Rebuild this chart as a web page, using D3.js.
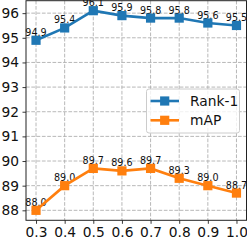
<!DOCTYPE html>
<html><head><meta charset="utf-8">
<script src="https://cdn.jsdelivr.net/npm/d3@7"></script>
<style>html,body{margin:0;padding:0;background:#fff;}svg{display:block;}</style>
</head><body>
<svg id="c" width="247" height="243"></svg>
<script>
const xValues = [0.3, 0.4, 0.5, 0.6, 0.7, 0.8, 0.9, 1.0];
const rank1 = [94.9, 95.4, 96.1, 95.9, 95.8, 95.8, 95.6, 95.5];
const mAP = [88.0, 89.0, 89.7, 89.6, 89.7, 89.3, 89.0, 88.7];
const yTicks = [88, 89, 90, 91, 92, 93, 94, 95, 96];
const seriesNames = ["Rank-1", "mAP"];
const colors = ["#1f77b4", "#ff7f0e"];

const svg = d3.select("#c");
const L = 26, R = 246.5, T = 0.7, B = 220.3;
const x = d3.scaleLinear().domain([0.265, 1.035]).range([L, R]);
const y = d3.scaleLinear().domain([87.595, 96.505]).range([B, T]);
const font = "DejaVu Sans";

// grid
const grid = svg.append("g");
grid.selectAll(".gx").data(xValues).enter().append("line")
  .attr("x1", d => x(d)).attr("x2", d => x(d)).attr("y1", T).attr("y2", B)
  .attr("stroke", "#b0b0b0").attr("stroke-width", 0.9).attr("stroke-dasharray", "3.7,1.6");
grid.selectAll(".gy").data(yTicks).enter().append("line")
  .attr("y1", d => y(d)).attr("y2", d => y(d)).attr("x1", L).attr("x2", R)
  .attr("stroke", "#b0b0b0").attr("stroke-width", 0.9).attr("stroke-dasharray", "3.7,1.6");

// axes
const xAxis = d3.axisBottom(x).tickValues(xValues).tickFormat(d3.format(".1f")).tickSize(3.5).tickPadding(3.5);
const yAxis = d3.axisLeft(y).tickValues(yTicks).tickFormat(d3.format("d")).tickSize(3.5).tickPadding(3.5);
const gx = svg.append("g").attr("transform", `translate(0,${B})`).call(xAxis);
const gy = svg.append("g").attr("transform", `translate(${L},0)`).call(yAxis);
[gx, gy].forEach(g => {
  g.select(".domain").remove();
  g.selectAll(".tick line").attr("stroke", "#222").attr("stroke-width", 0.9);
  g.selectAll(".tick text").attr("font-family", font).attr("font-size", 13.8).attr("fill", "#111");
});
gx.selectAll(".tick text").attr("dy", "0.71em");

// spines
svg.append("rect").attr("x", L).attr("y", T).attr("width", R - L).attr("height", B - T)
  .attr("fill", "none").attr("stroke", "#222").attr("stroke-width", 1);

const series = [rank1, mAP];
const fmt = d3.format(".1f");
// value labels (under markers)
series.forEach((vals, i) => {
  svg.append("g").selectAll("text").data(vals).enter().append("text")
    .attr("x", (d, j) => x(xValues[j])).attr("y", d => y(d) - 4.5)
    .attr("text-anchor", "middle").attr("font-family", font).attr("font-size", 9.6).attr("fill", "#111")
    .text(d => fmt(d));
});

const line = d3.line().x((d, j) => x(xValues[j])).y(d => y(d));
series.forEach((vals, i) => {
  svg.append("path").datum(vals).attr("d", line).attr("fill", "none")
    .attr("stroke", colors[i]).attr("stroke-width", 2.6);
  svg.append("g").selectAll("rect").data(vals).enter().append("rect")
    .attr("x", (d, j) => x(xValues[j]) - 4.6).attr("y", d => y(d) - 4.6)
    .attr("width", 9.2).attr("height", 9.2).attr("fill", colors[i]);
});

// legend
const lg = svg.append("g");
lg.append("rect").attr("x", 146.5).attr("y", 89).attr("width", 93).attr("height", 44).attr("rx", 2.5)
  .attr("fill", "#fff").attr("fill-opacity", 0.8).attr("stroke", "#ccc").attr("stroke-width", 1);
seriesNames.forEach((n, i) => {
  const cy = 101 + i * 19.3;
  lg.append("line").attr("x1", 150.5).attr("x2", 179).attr("y1", cy).attr("y2", cy)
    .attr("stroke", colors[i]).attr("stroke-width", 2.6);
  lg.append("rect").attr("x", 164.7 - 4.6).attr("y", cy - 4.6).attr("width", 9.2).attr("height", 9.2).attr("fill", colors[i]);
  lg.append("text").attr("x", 190).attr("y", cy).attr("dy", "0.36em")
    .attr("font-family", font).attr("font-size", 13.8).attr("fill", "#111").text(n);
});
</script>
</body></html>
